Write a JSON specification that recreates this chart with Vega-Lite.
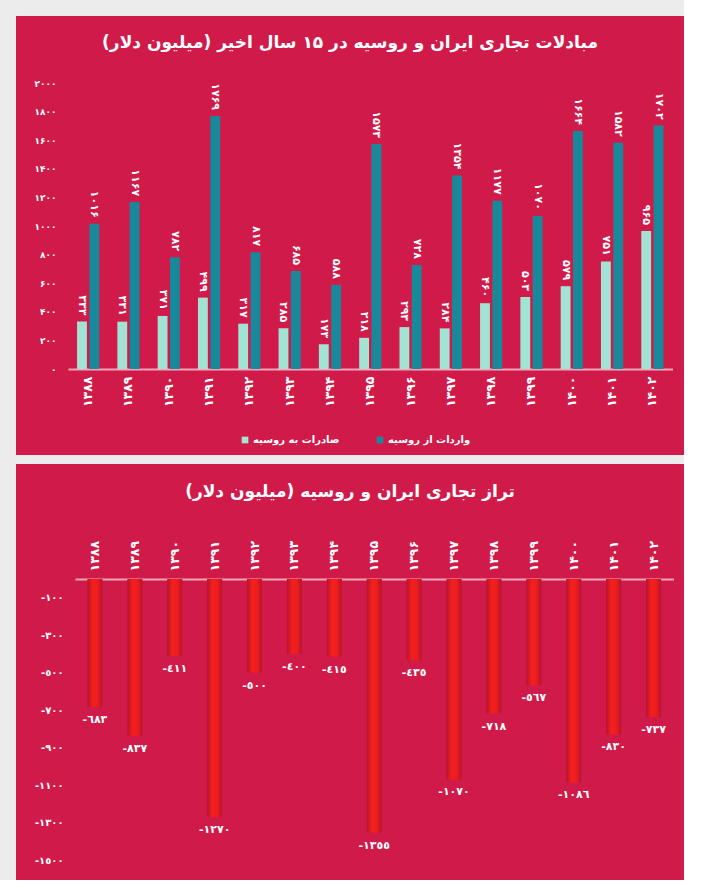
{
  "$schema": "https://vega.github.io/schema/vega-lite/v6.json",
  "background": "#ececec",
  "padding": {"left": 16, "top": 16, "right": 0, "bottom": 0},
  "spacing": 9,
  "config": {
    "font": "DejaVu Sans",
    "view": {"stroke": null, "fill": "#d01b4a"},
    "locale": {
      "number": {
        "decimal": ".",
        "thousands": "",
        "grouping": [3],
        "currency": ["", ""],
        "numerals": ["۰", "۱", "۲", "۳", "۴", "۵", "۶", "۷", "۸", "۹"],
        "minus": "-"
      }
    }
  },
  "datasets": {
    "trade": [
      {"year": "۱۳۸۸", "series": "صادرات به روسیه", "value": 333},
      {"year": "۱۳۸۸", "series": "واردات از روسیه", "value": 1016},
      {"year": "۱۳۸۹", "series": "صادرات به روسیه", "value": 331},
      {"year": "۱۳۸۹", "series": "واردات از روسیه", "value": 1167},
      {"year": "۱۳۹۰", "series": "صادرات به روسیه", "value": 371},
      {"year": "۱۳۹۰", "series": "واردات از روسیه", "value": 782},
      {"year": "۱۳۹۱", "series": "صادرات به روسیه", "value": 499},
      {"year": "۱۳۹۱", "series": "واردات از روسیه", "value": 1769},
      {"year": "۱۳۹۲", "series": "صادرات به روسیه", "value": 317},
      {"year": "۱۳۹۲", "series": "واردات از روسیه", "value": 817},
      {"year": "۱۳۹۳", "series": "صادرات به روسیه", "value": 285},
      {"year": "۱۳۹۳", "series": "واردات از روسیه", "value": 685},
      {"year": "۱۳۹۴", "series": "صادرات به روسیه", "value": 173},
      {"year": "۱۳۹۴", "series": "واردات از روسیه", "value": 588},
      {"year": "۱۳۹۵", "series": "صادرات به روسیه", "value": 218},
      {"year": "۱۳۹۵", "series": "واردات از روسیه", "value": 1573},
      {"year": "۱۳۹۶", "series": "صادرات به روسیه", "value": 293},
      {"year": "۱۳۹۶", "series": "واردات از روسیه", "value": 728},
      {"year": "۱۳۹۷", "series": "صادرات به روسیه", "value": 284},
      {"year": "۱۳۹۷", "series": "واردات از روسیه", "value": 1354},
      {"year": "۱۳۹۸", "series": "صادرات به روسیه", "value": 460},
      {"year": "۱۳۹۸", "series": "واردات از روسیه", "value": 1177},
      {"year": "۱۳۹۹", "series": "صادرات به روسیه", "value": 503},
      {"year": "۱۳۹۹", "series": "واردات از روسیه", "value": 1070},
      {"year": "۱۴۰۰", "series": "صادرات به روسیه", "value": 579},
      {"year": "۱۴۰۰", "series": "واردات از روسیه", "value": 1664},
      {"year": "۱۴۰۱", "series": "صادرات به روسیه", "value": 751},
      {"year": "۱۴۰۱", "series": "واردات از روسیه", "value": 1582},
      {"year": "۱۴۰۲", "series": "صادرات به روسیه", "value": 965},
      {"year": "۱۴۰۲", "series": "واردات از روسیه", "value": 1702}
    ],
    "balance": [
      {"year": "۱۳۸۸", "value": -683, "label": "-٦٨٣"},
      {"year": "۱۳۸۹", "value": -837, "label": "-٨٣٧"},
      {"year": "۱۳۹۰", "value": -411, "label": "-٤١١"},
      {"year": "۱۳۹۱", "value": -1270, "label": "-١٢٧٠"},
      {"year": "۱۳۹۲", "value": -500, "label": "-٥٠٠"},
      {"year": "۱۳۹۳", "value": -400, "label": "-٤٠٠"},
      {"year": "۱۳۹۴", "value": -415, "label": "-٤١٥"},
      {"year": "۱۳۹۵", "value": -1355, "label": "-١٣٥٥"},
      {"year": "۱۳۹۶", "value": -435, "label": "-٤٣٥"},
      {"year": "۱۳۹۷", "value": -1070, "label": "-١٠٧٠"},
      {"year": "۱۳۹۸", "value": -718, "label": "-٧١٨"},
      {"year": "۱۳۹۹", "value": -567, "label": "-٥٦٧"},
      {"year": "۱۴۰۰", "value": -1086, "label": "-١٠٨٦"},
      {"year": "۱۴۰۱", "value": -830, "label": "-٨٣٠"},
      {"year": "۱۴۰۲", "value": -737, "label": "-٧٣٧"}
    ]
  },
  "vconcat": [
    {
      "width": 668,
      "height": 439,
      "title": {
        "text": "‏مبادلات تجاری ایران و روسیه در ۱۵ سال اخیر (میلیون دلار)‏",
        "offset": -36,
        "fontSize": 17,
        "fontWeight": "bold",
        "color": "white",
        "anchor": "middle"
      },
      "data": {"name": "trade"},
      "encoding": {
        "x": {
          "field": "year",
          "type": "nominal",
          "sort": null,
          "scale": {"range": [52, 656.5], "paddingInner": 0.45, "paddingOuter": 0.225},
          "axis": {
            "orient": "bottom",
            "offset": -86,
            "title": null,
            "labelAngle": 270,
            "labelPadding": 7,
            "ticks": false,
            "domainColor": "#f4a6b8",
            "domainWidth": 2,
            "labelColor": "white",
            "labelFontSize": 12.5,
            "labelFontWeight": "bold"
          }
        },
        "xOffset": {
          "field": "series",
          "type": "nominal",
          "sort": ["صادرات به روسیه", "واردات از روسیه"],
          "scale": {"paddingInner": 0.2}
        },
        "y": {
          "field": "value",
          "type": "quantitative",
          "scale": {"domain": [0, 2000], "range": [353, 67]},
          "axis": {
            "orient": "left",
            "offset": -42,
            "values": [0, 200, 400, 600, 800, 1000, 1200, 1400, 1600, 1800, 2000],
            "format": "d",
            "title": null,
            "domain": false,
            "ticks": false,
            "grid": false,
            "labelColor": "white",
            "labelFontSize": 9,
            "labelFontWeight": "bold"
          }
        }
      },
      "layer": [
        {
          "mark": {"type": "bar"},
          "encoding": {
            "color": {
              "field": "series",
              "type": "nominal",
              "sort": ["صادرات به روسیه", "واردات از روسیه"],
              "scale": {"domain": ["صادرات به روسیه", "واردات از روسیه"], "range": ["#a2e3d4", "#17899b"]},
              "legend": {
                "orient": "none",
                "legendX": 224,
                "legendY": 419,
                "direction": "horizontal",
                "title": null,
                "labelColor": "white",
                "labelFontSize": 10,
                "labelFontWeight": "bold",
                "labelOffset": 3,
                "symbolType": "square",
                "symbolSize": 45,
                "symbolStrokeWidth": 0,
                "columnPadding": 35
              }
            }
          }
        },
        {
          "mark": {
            "type": "text",
            "angle": 90,
            "align": "right",
            "baseline": "middle",
            "dx": -6,
            "fontSize": 11,
            "fontWeight": "bold",
            "color": "white"
          },
          "encoding": {
            "text": {"field": "value", "type": "quantitative", "format": "d"}
          }
        }
      ]
    },
    {
      "width": 668,
      "height": 416,
      "title": {
        "text": "‏تراز تجاری ایران و روسیه (میلیون دلار)‏",
        "offset": -37,
        "fontSize": 17,
        "fontWeight": "bold",
        "color": "white",
        "anchor": "middle"
      },
      "data": {"name": "balance"},
      "encoding": {
        "x": {
          "field": "year",
          "type": "nominal",
          "sort": null,
          "scale": {"range": [59, 657.5], "paddingInner": 0.62, "paddingOuter": 0.31},
          "axis": {
            "orient": "top",
            "offset": -115,
            "title": null,
            "labelAngle": 270,
            "labelPadding": 8,
            "ticks": false,
            "domainColor": "#f4a6b8",
            "domainWidth": 2,
            "labelColor": "white",
            "labelFontSize": 12.5,
            "labelFontWeight": "bold"
          }
        },
        "y": {
          "field": "value",
          "type": "quantitative",
          "scale": {"domain": [-1500, 0], "range": [396, 115]},
          "axis": {
            "orient": "left",
            "offset": -49,
            "values": [-100, -300, -500, -700, -900, -1100, -1300, -1500],
            "labelExpr": "['-١٠٠','-٣٠٠','-٥٠٠','-٧٠٠','-٩٠٠','-١١٠٠','-١٣٠٠','-١٥٠٠'][(-datum.value-100)/200]",
            "title": null,
            "domain": false,
            "ticks": false,
            "grid": false,
            "labelColor": "white",
            "labelFontSize": 10,
            "labelFontWeight": "bold"
          }
        }
      },
      "layer": [
        {
          "mark": {
            "type": "bar",
            "color": {
              "gradient": "linear",
              "x1": 0, "y1": 0, "x2": 1, "y2": 0,
              "stops": [
                {"offset": 0, "color": "#b5142e"},
                {"offset": 0.35, "color": "#f3201d"},
                {"offset": 0.65, "color": "#f01d1e"},
                {"offset": 1, "color": "#b5142e"}
              ]
            }
          }
        },
        {
          "mark": {
            "type": "text",
            "baseline": "top",
            "align": "center",
            "dy": 7,
            "fontSize": 11,
            "fontWeight": "bold",
            "color": "white"
          },
          "encoding": {
            "text": {"field": "label", "type": "nominal"}
          }
        }
      ]
    }
  ]
}
